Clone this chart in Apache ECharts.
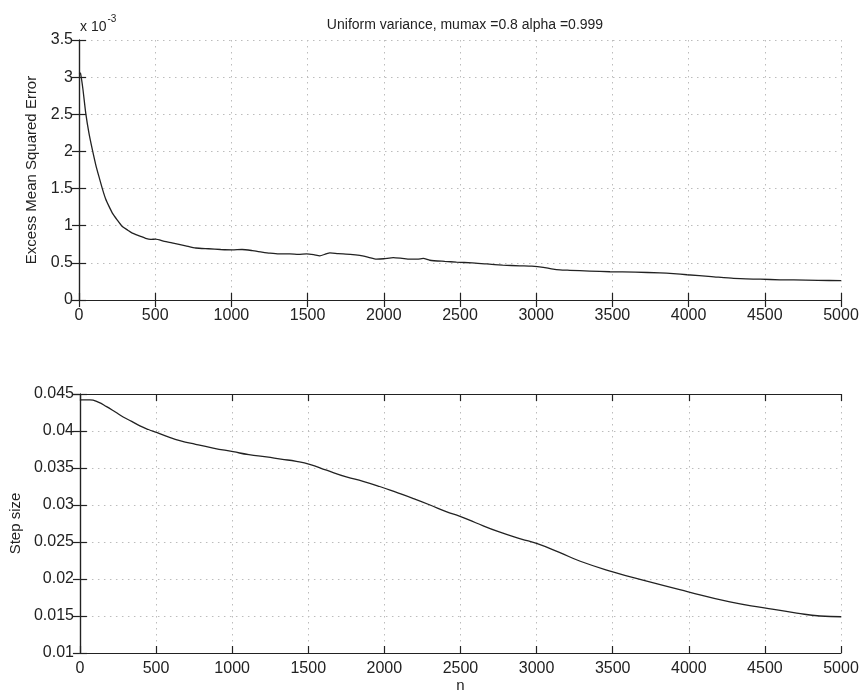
<!DOCTYPE html>
<html>
<head>
<meta charset="utf-8">
<script src="https://cdn.jsdelivr.net/npm/echarts@6/dist/echarts.min.js"></script>
<style>html,body{margin:0;padding:0;background:#fff}#c{width:862px;height:694px}</style>
</head>
<body>
<div id="c"></div>
<script>
// ---- data ----
const titleText = 'Uniform variance, mumax =0.8 alpha =0.999';
const xTicks = [0, 500, 1000, 1500, 2000, 2500, 3000, 3500, 4000, 4500, 5000];
const mseTicks = [0, 0.5, 1, 1.5, 2, 2.5, 3, 3.5];           // ×10^-3
const stepTicks = [0.01, 0.015, 0.02, 0.025, 0.03, 0.035, 0.04, 0.045];

const nTop = [0, 10, 25, 44, 65, 88, 110, 131, 153, 175, 197, 219, 250, 284, 320, 350, 400, 437, 470, 503,
  560, 610, 656, 700, 766, 850, 930, 1006, 1070, 1137, 1200, 1253, 1312, 1384, 1440, 1493, 1540, 1580, 1620,
  1646, 1700, 1780, 1843, 1900, 1952, 2000, 2062, 2120, 2171, 2220, 2259, 2302, 2400, 2477, 2580, 2674, 2780,
  2893, 2970, 3046, 3100, 3156, 3221, 3350, 3484, 3650, 3812, 3900, 3990, 4150, 4295, 4470, 4600, 4690, 4850, 5000];
const mseE3 = [3.06, 3.05, 2.85, 2.52, 2.25, 2.02, 1.82, 1.66, 1.50, 1.36, 1.26, 1.17, 1.08, 0.99, 0.94, 0.90, 0.86, 0.83, 0.815, 0.82,
  0.79, 0.77, 0.75, 0.73, 0.70, 0.69, 0.68, 0.675, 0.68, 0.665, 0.645, 0.63, 0.62, 0.62, 0.615, 0.62, 0.61, 0.595, 0.62,
  0.635, 0.625, 0.615, 0.60, 0.575, 0.55, 0.555, 0.57, 0.56, 0.55, 0.55, 0.56, 0.535, 0.52, 0.51, 0.50, 0.485, 0.47,
  0.46, 0.455, 0.44, 0.42, 0.405, 0.40, 0.39, 0.38, 0.375, 0.365, 0.355, 0.34, 0.315, 0.29, 0.28, 0.272, 0.27, 0.265, 0.26];

const nStep = [0, 66, 120, 175, 230, 284, 340, 394, 450, 503, 580, 656, 760, 875, 1006, 1110, 1225, 1320, 1422, 1509,
  1620, 1750, 1860, 1969, 2080, 2187, 2300, 2406, 2493, 2600, 2750, 2900, 3000, 3150, 3287, 3495, 3724, 3990, 4270,
  4496, 4709, 4862, 5000];
const stepSize = [0.0442, 0.0442, 0.0439, 0.0433, 0.0426, 0.0419, 0.0413, 0.0407, 0.0402, 0.0398, 0.0392, 0.0387, 0.0382,
  0.0377, 0.0372, 0.0368, 0.0365, 0.0362, 0.0359, 0.0355, 0.0347, 0.0338, 0.0332, 0.0325, 0.0317, 0.0309, 0.0300, 0.0291,
  0.0285, 0.0276, 0.0264, 0.0254, 0.0248, 0.0236, 0.0224, 0.0210, 0.0197, 0.0183, 0.0169, 0.0161, 0.0154, 0.0150, 0.0149];

// ---- chart ----
const FONT = 'Liberation Sans, Arial, Helvetica, sans-serif';
const INK = '#222';
const chart = echarts.init(document.getElementById('c'), null, {renderer: 'canvas'});

function zip(xs, ys) { return xs.map((x, i) => [x, ys[i]]); }
const span = (a) => ({min: a[0], max: a[a.length - 1], interval: a[1] - a[0]});
const gridLine = {show: true, lineStyle: {color: '#bcbcbc', width: 1, type: [1.5, 4.5]}};
const axLine = {show: true, lineStyle: {color: INK, width: 1.2}};
const tick = {show: true, inside: true, length: 7, lineStyle: {color: INK, width: 1.2}};
const lbl = {color: INK, fontFamily: FONT, fontSize: 16};

function xAxes(gi, showName) {
  const s = span(xTicks);
  return [
    Object.assign({type: 'value', gridIndex: gi, position: 'bottom', axisLine: axLine, axisTick: tick,
      axisLabel: Object.assign({margin: 8, formatter: (v) => String(v)}, lbl), splitLine: gridLine,
      name: showName ? 'n' : '', nameLocation: 'middle', nameGap: 25,
      nameTextStyle: {color: INK, fontFamily: FONT, fontSize: 15}}, s),
    Object.assign({type: 'value', gridIndex: gi, position: 'top', axisLine: axLine, axisTick: tick,
      axisLabel: {show: false}, splitLine: {show: false}}, s)
  ];
}
function yAxes(gi, ticks, name, gap, fmt) {
  const s = span(ticks);
  return [
    Object.assign({type: 'value', gridIndex: gi, position: 'left', axisLine: axLine, axisTick: tick,
      axisLabel: Object.assign({margin: 6, formatter: fmt}, lbl), splitLine: gridLine,
      name: name, nameLocation: 'middle', nameRotate: 90, nameGap: gap,
      nameTextStyle: {color: INK, fontFamily: FONT, fontSize: 15}}, s),
    Object.assign({type: 'value', gridIndex: gi, position: 'right', axisLine: axLine, axisTick: tick,
      axisLabel: {show: false}, splitLine: {show: false}}, s)
  ];
}

chart.setOption({
  animation: false,
  backgroundColor: '#fff',
  title: {
    text: titleText, left: 460, top: 13, textAlign: 'center',
    textStyle: {color: INK, fontFamily: FONT, fontSize: 14, fontWeight: 'normal'}
  },
  graphic: [{
    type: 'text', left: 80, top: 14,
    style: {
      text: '{a|x 10}{b|-3}',
      rich: {
        a: {fontFamily: FONT, fontSize: 14, fill: INK, verticalAlign: 'bottom', lineHeight: 20},
        b: {fontFamily: FONT, fontSize: 10, fill: INK, verticalAlign: 'top', lineHeight: 20, padding: [0, 0, 8, 1]}
      }
    }
  }],
  grid: [
    {left: 79, right: 21, top: 40, height: 260},
    {left: 79, right: 21, top: 394, height: 260}
  ],
  xAxis: [...xAxes(0, false), ...xAxes(1, true)],
  yAxis: [
    ...yAxes(0, mseTicks, 'Excess Mean Squared Error', 34, (v) => String(+v.toFixed(1))),
    ...yAxes(1, stepTicks, 'Step size', 51, (v) => String(+v.toFixed(3)))
  ],
  series: [
    {type: 'line', xAxisIndex: 0, yAxisIndex: 0, data: zip(nTop, mseE3), showSymbol: false, smooth: 0.2,
      lineStyle: {color: INK, width: 1.3}},
    {type: 'line', xAxisIndex: 2, yAxisIndex: 2, data: zip(nStep, stepSize), showSymbol: false, smooth: true,
      lineStyle: {color: INK, width: 1.3}}
  ]
});
</script>
</body>
</html>
